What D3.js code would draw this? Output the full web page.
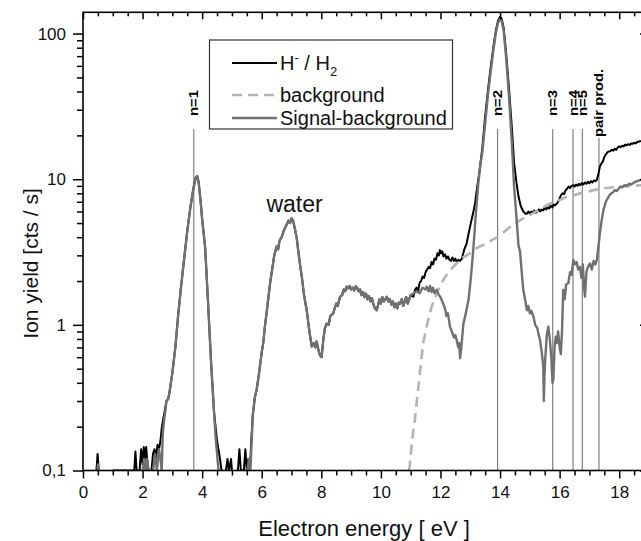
<!DOCTYPE html>
<html><head><meta charset="utf-8">
<script src="https://cdn.jsdelivr.net/npm/d3@7"></script>
<style>
html,body{margin:0;padding:0;background:#fff;}
svg{display:block;font-family:"Liberation Sans",Arial,sans-serif;}
</style></head>
<body><svg id="c" width="641" height="541"></svg>
<script>
// ---------- data ----------
const xTicks = [0,2,4,6,8,10,12,14,16,18];
const xTickLabels = ["0","2","4","6","8","10","12","14","16","18"];
const xMinorTicks = [0.5,1,1.5,2.5,3,3.5,4.5,5,5.5,6.5,7,7.5,8.5,9,9.5,10.5,11,11.5,12.5,13,13.5,14.5,15,15.5,16.5,17,17.5,18.5];
const yTicks = [0.1,1,10,100];
const yTickLabels = ["0,1","1","10","100"];
const yMinorTicks = [0.2,0.3,0.4,0.5,0.6,0.7,0.8,0.9,2,3,4,5,6,7,8,9,20,30,40,50,60,70,80,90];

const seriesNames = ["H\u207B / H\u2082","background","Signal-background"];

// H- / H2 measured signal  [energy eV, yield cts/s]
const signal = [
[0.0,0.08],[0.4,0.08],[0.45,0.1],[0.49,0.13],[0.53,0.1],[0.58,0.08],[0.95,0.08],[1.0,0.1],[1.6,0.1],[1.72,0.1],[1.76,0.135],[1.8,0.1],
[1.9,0.1],[1.95,0.14],[2.0,0.11],[2.04,0.145],[2.08,0.12],[2.12,0.145],[2.17,0.11],[2.2,0.1],[2.3,0.1],[2.35,0.13],[2.4,0.14],
[2.45,0.12],[2.5,0.15],[2.55,0.14],[2.6,0.16],[2.65,0.2],[2.7,0.23],[2.75,0.26],[2.8,0.3],[2.86,0.31],[2.9,0.34],[3.0,0.47],
[3.1,0.7],[3.2,1.2],[3.3,1.9],[3.4,2.9],[3.5,4.4],[3.6,6.3],[3.7,8.5],[3.78,10.2],[3.83,10.5],[3.88,9.6],[3.95,7.0],[4.0,5.3],
[4.1,3.4],[4.2,1.4],[4.3,0.55],[4.4,0.25],[4.5,0.16],[4.6,0.12],[4.65,0.1],[4.7,0.08],[4.78,0.08],[4.8,0.1],[4.85,0.12],[4.9,0.1],
[4.97,0.12],[5.0,0.1],[5.1,0.08],[5.2,0.1],[5.25,0.14],[5.3,0.1],[5.4,0.1],[5.45,0.14],[5.5,0.1],[5.55,0.12],[5.6,0.1],[5.65,0.16],
[5.7,0.24],[5.77,0.32],[5.83,0.36],[5.9,0.45],[6.0,0.65],[6.05,0.75],[6.1,0.95],[6.2,1.4],[6.28,1.93],[6.35,2.4],[6.42,3.0],
[6.5,3.45],[6.55,3.3],[6.6,3.8],[6.67,4.0],[6.75,4.5],[6.84,4.9],[6.9,5.2],[6.95,5.0],[7.0,5.4],[7.05,5.2],[7.1,4.7],[7.17,4.0],
[7.22,3.3],[7.28,2.64],[7.35,2.1],[7.42,1.6],[7.51,1.26],[7.6,0.9],[7.68,0.71],[7.74,0.75],[7.8,0.7],[7.84,0.77],[7.9,0.68],
[7.95,0.62],[8.01,0.6],[8.07,0.8],[8.12,0.95],[8.18,1.02],[8.25,1.0],[8.3,1.15],[8.4,1.2],[8.45,1.3],[8.5,1.4],[8.55,1.35],
[8.63,1.56],[8.7,1.6],[8.75,1.75],[8.8,1.7],[8.85,1.83],[8.9,1.78],[8.95,1.85],[9.0,1.75],[9.05,1.8],[9.1,1.72],[9.15,1.84],
[9.2,1.8],[9.25,1.7],[9.3,1.75],[9.35,1.6],[9.4,1.68],[9.45,1.55],[9.5,1.64],[9.55,1.5],[9.6,1.58],[9.65,1.45],[9.7,1.52],
[9.75,1.38],[9.8,1.3],[9.86,1.26],[9.9,1.35],[9.95,1.5],[10.0,1.4],[10.05,1.55],[10.1,1.45],[10.2,1.56],[10.25,1.45],[10.3,1.5],
[10.35,1.38],[10.4,1.45],[10.45,1.32],[10.5,1.4],[10.55,1.3],[10.6,1.42],[10.64,1.4],[10.7,1.5],[10.75,1.35],[10.8,1.45],
[10.85,1.55],[10.9,1.4],[10.95,1.5],[11.0,1.6],[11.09,1.56],[11.15,1.75],[11.2,1.8],[11.25,1.7],[11.3,1.95],[11.35,2.0],
[11.4,2.15],[11.45,2.1],[11.5,2.3],[11.54,2.38],[11.6,2.5],[11.65,2.45],[11.7,2.7],[11.75,2.6],[11.8,2.85],[11.85,2.8],
[11.9,3.1],[11.95,3.0],[11.98,3.26],[12.02,3.1],[12.06,3.2],[12.1,2.95],[12.15,3.05],[12.2,2.85],[12.25,2.95],[12.3,2.8],
[12.35,2.75],[12.4,2.9],[12.45,2.75],[12.5,2.85],[12.55,2.7],[12.6,2.8],[12.66,2.75],[12.72,2.85],[12.8,3.3],[12.88,3.63],
[12.95,4.3],[13.02,5.0],[13.1,5.9],[13.16,6.8],[13.22,8.5],[13.3,11],[13.4,16],[13.5,27],[13.6,42],[13.7,62],[13.78,82],
[13.86,105],[13.93,122],[14.0,130],[14.05,127],[14.12,110],[14.2,75],[14.3,42],[14.4,22],[14.47,13],[14.55,9.5],[14.62,7.6],
[14.7,6.5],[14.78,6.0],[14.86,5.8],[14.9,5.8],[14.95,6.0],[15.0,5.8],[15.05,6.0],[15.1,5.85],[15.15,6.1],[15.2,5.9],[15.25,6.0],
[15.3,6.2],[15.35,6.0],[15.4,6.2],[15.45,6.1],[15.5,6.4],[15.55,6.2],[15.6,6.4],[15.65,6.3],[15.7,6.6],[15.75,6.4],[15.8,6.7],
[15.85,6.6],[15.9,6.8],[15.95,7.0],[16.0,7.4],[16.05,7.8],[16.1,8.0],[16.15,7.9],[16.2,8.4],[16.25,8.6],[16.3,8.9],[16.35,8.7],
[16.4,9.0],[16.46,9.1],[16.5,8.9],[16.55,9.2],[16.6,9.0],[16.65,9.3],[16.7,9.1],[16.75,9.4],[16.8,9.2],[16.85,9.5],[16.9,9.3],
[16.95,9.6],[17.0,9.4],[17.05,9.7],[17.1,9.5],[17.15,9.8],[17.2,9.7],[17.25,9.9],[17.3,10.8],[17.35,12.2],[17.4,12.8],
[17.45,13.2],[17.5,14.2],[17.57,15.0],[17.62,15.4],[17.7,15.6],[17.75,15.9],[17.8,15.7],[17.85,16.2],[17.9,15.9],[17.95,16.5],
[18.0,16.8],[18.05,16.6],[18.1,17.0],[18.15,16.8],[18.2,17.3],[18.25,17.1],[18.3,17.4],[18.35,17.2],[18.4,17.6],[18.45,17.5],
[18.5,17.8],[18.55,17.6],[18.6,18.0],[18.7,18.2],[18.8,18.5],[18.9,18.3],[19.0,18.6]];

// fitted background
const background = [
[10.95,0.1],[11.03,0.146],[11.1,0.2],[11.14,0.222],[11.2,0.29],[11.3,0.45],[11.42,0.75],[11.55,1.0],[11.7,1.33],[11.9,1.7],
[12.09,2.03],[12.3,2.35],[12.54,2.64],[12.75,2.9],[12.99,3.1],[13.25,3.4],[13.55,3.63],[13.8,3.9],[14.0,4.13],[14.25,4.55],
[14.5,4.97],[14.75,5.35],[15.0,5.67],[15.35,6.25],[15.68,6.82],[16.0,7.2],[16.24,7.57],[16.6,7.9],[16.91,8.2],[17.35,8.6],
[17.8,8.8],[18.3,8.95],[18.73,9.1],[19.0,9.2]];

// signal minus background: low-energy part, then part above 10.9 eV
const diffLow = [
[0.0,0.08],[0.45,0.08],[0.5,0.11],[0.55,0.08],[1.9,0.08],[2.0,0.1],[2.05,0.12],[2.1,0.1],[2.15,0.12],[2.2,0.1],[2.35,0.1],
[2.42,0.13],[2.48,0.1],[2.55,0.14],[2.6,0.12],[2.64,0.1],[2.68,0.18],[2.72,0.22],[2.78,0.27]];
const diffGap = [[4.45,0.17],[4.55,0.1],[4.6,0.08],[5.45,0.08],[5.52,0.1],[5.57,0.12],[5.62,0.1]];
const diffHigh = [
[11.09,1.64],[11.2,1.7],[11.3,1.65],[11.4,1.8],[11.5,1.75],[11.54,1.83],[11.6,1.7],[11.65,1.85],[11.7,1.68],[11.75,1.8],
[11.8,1.65],[11.87,1.74],[11.95,1.6],[12.0,1.55],[12.09,1.4],[12.15,1.3],[12.2,1.15],[12.25,1.2],[12.32,0.97],[12.38,0.9],
[12.45,0.82],[12.5,0.85],[12.54,0.79],[12.6,0.7],[12.63,0.75],[12.66,0.59],[12.7,0.7],[12.77,1.02],[12.85,1.2],[12.94,1.48],
[13.02,2.1],[13.1,3.26],[13.18,5.5],[13.27,9.36],[13.35,13],[13.4,15],[13.5,24],[13.6,39],[13.7,58],[13.78,78],[13.86,101],
[13.93,118],[14.0,126],[14.05,123],[14.12,105],[14.2,70],[14.3,37],[14.4,17],[14.47,9],[14.55,5.5],[14.62,3.5],[14.67,3.2],
[14.72,2.4],[14.78,1.74],[14.84,1.5],[14.9,1.26],[14.95,1.35],[15.0,1.2],[15.05,1.25],[15.12,1.14],[15.18,1.0],[15.25,0.95],
[15.3,0.85],[15.34,0.79],[15.4,0.65],[15.45,0.52],[15.47,0.3],[15.49,0.45],[15.52,0.6],[15.57,0.85],[15.62,0.97],[15.67,0.8],
[15.72,0.6],[15.76,0.4],[15.79,0.42],[15.83,0.7],[15.87,0.83],[15.9,0.75],[15.95,0.9],[16.0,0.7],[16.04,0.63],[16.08,0.9],
[16.12,1.74],[16.17,1.5],[16.22,1.9],[16.29,1.93],[16.35,2.3],[16.4,2.2],[16.46,2.79],[16.52,2.6],[16.57,2.7],[16.62,2.4],
[16.68,2.5],[16.73,2.1],[16.78,2.6],[16.82,1.8],[16.85,1.56],[16.9,2.3],[16.95,2.5],[17.02,2.64],[17.08,2.4],[17.14,2.75],
[17.2,2.6],[17.25,2.79],[17.3,3.4],[17.35,4.25],[17.41,5.2],[17.47,6.14],[17.55,7.0],[17.64,7.57],[17.7,7.9],[17.78,8.1],
[17.85,8.4],[17.92,8.3],[18.0,8.7],[18.03,8.87],[18.1,8.8],[18.18,9.1],[18.25,9.0],[18.33,9.3],[18.4,9.2],[18.5,9.5],
[18.6,9.7],[18.7,9.86],[18.8,10.0],[18.9,10.1],[19.0,10.2]];

// thresholds (vertical marker lines)
const markerEnergies = [3.72,13.92,15.77,16.45,16.76,17.32];
const markerLabels = ["n=1","n=2","n=3","n=4","n=5","pair prod."];

// ---------- layout ----------
const L=83, R=649, T=12.3, B=470.5;
const svg=d3.select("#c");
const x=d3.scaleLinear().domain([0,19]).range([L,R]);
const y=d3.scaleLog().domain([0.1,140]).range([B,T]);

// gray curve: signal where background is zero, plus explicit parts
const diff = diffLow
  .concat(signal.filter(d=>d[0]>=2.8 && d[0]<=4.4))
  .concat(diffGap)
  .concat(signal.filter(d=>d[0]>=5.7 && d[0]<=11.0))
  .concat(diffHigh);

svg.append("defs").append("clipPath").attr("id","clip")
  .append("rect").attr("x",L).attr("y",T).attr("width",R-L).attr("height",B-T);

const line=d3.line().x(d=>x(d[0])).y(d=>y(d[1]));
const plot=svg.append("g").attr("clip-path","url(#clip)");

// marker lines
plot.selectAll("line.mk").data(markerEnergies).join("line")
  .attr("x1",d=>x(d)).attr("x2",d=>x(d))
  .attr("y1",(d,i)=> i===5?138:129).attr("y2",B)
  .attr("stroke","#666").attr("stroke-width",1);

plot.append("path").datum(signal).attr("d",line)
  .attr("fill","none").attr("stroke","#000").attr("stroke-width",2).attr("stroke-linejoin","round");
plot.append("path").datum(background).attr("d",line)
  .attr("fill","none").attr("stroke","#b4b4b4").attr("stroke-width",2.6).attr("stroke-dasharray","10,6");
plot.append("path").datum(diff).attr("d",line)
  .attr("fill","none").attr("stroke","#707070").attr("stroke-width",2.4).attr("stroke-linejoin","round");

// marker labels (rotated)
svg.selectAll("text.mk").data(markerEnergies).join("text")
  .attr("transform",(d,i)=>`translate(${x(d)+4.5},${i===5?137:116}) rotate(-90)`)
  .attr("font-size",12).attr("font-weight","bold").attr("fill","#000")
  .attr("textLength",(d,i)=> i===5?68:26).attr("lengthAdjust","spacingAndGlyphs")
  .text((d,i)=>markerLabels[i]);

// ---------- axes ----------
function styleAxis(g){
  g.selectAll(".domain").remove();
  g.selectAll("line").attr("stroke","#000").attr("stroke-width",1.5);
  g.selectAll("text").attr("fill","#111").attr("font-size",17).attr("font-family","Liberation Sans, Arial, sans-serif");
}
// bottom
svg.append("g").attr("transform",`translate(0,${B})`)
  .call(d3.axisBottom(x).tickValues(xTicks).tickFormat((d,i)=>xTickLabels[i]).tickSize(8).tickPadding(7))
  .call(styleAxis);
svg.append("g").attr("transform",`translate(0,${B})`)
  .call(d3.axisBottom(x).tickValues(xMinorTicks).tickFormat("").tickSize(5)).call(styleAxis);
// top (inward)
svg.append("g").attr("transform",`translate(0,${T})`)
  .call(d3.axisBottom(x).tickValues(xTicks).tickFormat("").tickSize(7)).call(styleAxis);
svg.append("g").attr("transform",`translate(0,${T})`)
  .call(d3.axisBottom(x).tickValues(xMinorTicks).tickFormat("").tickSize(4)).call(styleAxis);
// left
svg.append("g").attr("transform",`translate(${L},0)`)
  .call(d3.axisLeft(y).tickValues(yTicks).tickFormat((d,i)=>yTickLabels[i]).tickSize(10).tickPadding(7))
  .call(styleAxis);
svg.append("g").attr("transform",`translate(${L},0)`)
  .call(d3.axisLeft(y).tickValues(yMinorTicks).tickFormat("").tickSize(6)).call(styleAxis);
// right (inward)
svg.append("g").attr("transform",`translate(${R},0)`)
  .call(d3.axisLeft(y).tickValues(yTicks).tickFormat("").tickSize(9)).call(styleAxis);
svg.append("g").attr("transform",`translate(${R},0)`)
  .call(d3.axisLeft(y).tickValues(yMinorTicks).tickFormat("").tickSize(5)).call(styleAxis);

// frame
svg.append("rect").attr("x",L).attr("y",T).attr("width",R-L).attr("height",B-T)
  .attr("fill","none").attr("stroke","#000").attr("stroke-width",1.6);

// axis titles
svg.append("text").attr("x",364).attr("y",536).attr("text-anchor","middle")
  .attr("font-size",22).attr("fill","#111").text("Electron energy [ eV ]");
svg.append("text").attr("transform",`translate(38,${(T+B)/2+22}) rotate(-90)`).attr("text-anchor","middle")
  .attr("font-size",21).attr("fill","#111").text("Ion yield [cts / s]");

// "water" annotation
svg.append("text").attr("x",x(7.1)).attr("y",212).attr("text-anchor","middle")
  .attr("font-size",23).attr("fill","#111").text("water");

// ---------- legend ----------
const lg=svg.append("g");
lg.append("rect").attr("x",209.5).attr("y",40).attr("width",243).attr("height",89)
  .attr("fill","#fff").attr("stroke","#333").attr("stroke-width",1.2);
const legY=[63,95,118];
const legStyle=[{c:"#000",w:2,da:null},{c:"#b4b4b4",w:2.6,da:"10,6"},{c:"#707070",w:2.4,da:null}];
legY.forEach((yy,i)=>{
  lg.append("line").attr("x1",232).attr("x2",277).attr("y1",yy).attr("y2",yy)
    .attr("stroke",legStyle[i].c).attr("stroke-width",legStyle[i].w).attr("stroke-dasharray",legStyle[i].da);
});
const t0=lg.append("text").attr("x",280).attr("y",legY[0]+7).attr("font-size",20).attr("fill","#111");
t0.append("tspan").text("H");
t0.append("tspan").attr("dy",-8).attr("font-size",13).text("-");
t0.append("tspan").attr("dy",8).text(" / H");
t0.append("tspan").attr("dy",6).attr("font-size",13).text("2");
lg.append("text").attr("x",280).attr("y",legY[1]+7).attr("font-size",20).attr("fill","#111").text(seriesNames[1]);
lg.append("text").attr("x",280).attr("y",legY[2]+7).attr("font-size",20).attr("fill","#111").text(seriesNames[2]);
</script></body></html>
